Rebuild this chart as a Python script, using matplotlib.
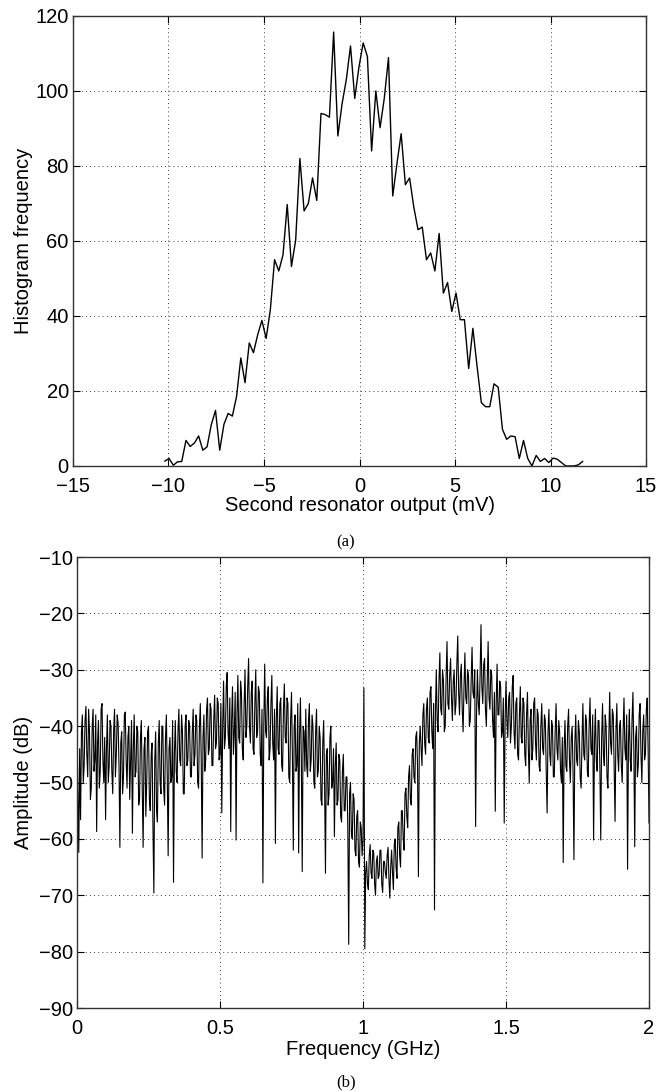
import numpy as np
import matplotlib
matplotlib.use("Agg")
import matplotlib.pyplot as plt
from matplotlib.ticker import FuncFormatter

plt.rcParams['font.family'] = ['Liberation Sans', 'DejaVu Sans']

# (a) histogramme : centres des classes (mV) et fréquences
bin_start = -10.19
bin_width = 0.2209
hist_counts = [
    1.3, 2, 0.2, 1.1, 1.2, 6.8, 5.2, 6.1, 8.0, 4.2,
    5.1, 11, 14.8, 4.2, 11.1, 14.0, 13.3, 18.6, 28.8, 22.2,
    32.8, 30.2, 35, 38.8, 34, 41.7, 55, 52, 56.3, 69.7,
    53.2, 60.2, 82, 68, 70, 76.8, 70.8, 94, 93.7, 93,
    115.7, 88, 96.6, 103, 112, 98, 106.4, 112.8, 109.2, 84,
    100, 90.2, 98, 108.9, 72, 80.6, 88.6, 75, 76.8, 69,
    63, 63.7, 55, 56.8, 52, 62, 46.1, 48.9, 41.2, 46.1,
    39, 39, 26, 36.7, 26.5, 16.9, 15.8, 15.8, 21.9, 21,
    9.8, 7.1, 8.0, 7.8, 2.0, 6.8, 2.0, 0, 2.8, 1.2,
    2.0, 0.9, 2.1, 1.8, 0.9, 0, 0, 0, 0.3, 1.2,
]
hist_x = bin_start + bin_width * np.arange(len(hist_counts))

# (b) spectre : amplitude (dB), 0 -> 2 GHz (32 valeurs par 0.1 GHz)
spec_db = [
    -40, -52, -62.4, -44, -56.6, -41, -38, -50, -47, -39, -36.5, -45, -49, -37, -41, -53,
    -51, -40, -37, -48, -46, -38, -58.7, -43, -39, -51, -48, -37, -36, -46, -50, -42,
    -56.6, -44, -38, -50, -47, -39, -40, -48, -52, -41, -37, -49, -45, -38, -39.5, -47,
    -61.5, -43, -41, -52, -49, -38, -37.5, -46, -51, -42, -40, -53, -46, -39, -59, -44,
    -38, -49, -48, -40, -41, -54, -53, -42, -39, -51, -61.5, -44, -42, -56, -50, -41,
    -40, -53, -55, -45, -43, -58, -69.6, -46, -41, -55, -57, -43, -39, -50, -52, -40,
    -40, -51, -54, -42, -38, -49, -63, -44, -42, -50, -49, -39, -67.7, -45, -39, -48,
    -50, -41, -37, -46, -47, -38, -41, -52, -52, -40, -38, -47, -46, -39, -40, -49,
    -49, -41, -37, -47, -45, -38, -39, -50, -51, -40, -36, -46, -63.4, -42, -38, -48,
    -46, -37, -35, -45, -44, -36, -37, -47, -47, -39, -34.5, -44, -43, -35, -36, -46,
    -45, -36, -55.4, -40, -32, -44, -42, -33, -30.5, -41, -44, -35, -58.7, -39, -33, -45,
    -41, -34, -60.2, -38, -31, -42, -43, -32, -34, -44, -46, -36, -30, -42, -40, -33,
    -28, -40, -43, -34, -32, -44, -45, -36, -30, -42, -41, -33, -34, -45, -47, -37,
    -67.8, -40, -29, -41, -42, -35, -33, -46, -44, -36, -31, -43, -46, -37, -60.8, -39,
    -33, -44, -45, -36, -35, -47, -48, -37, -32.5, -42, -43, -35, -36, -49, -50, -39,
    -34, -45, -62, -40, -38, -48, -47, -36, -62.5, -42, -35, -46, -65.8, -40, -41, -48,
    -37, -47, -49, -39, -36, -48, -46, -38, -40, -50, -51, -41, -37, -49, -48, -40,
    -42, -53, -54, -43, -39, -50, -66.1, -45, -44, -54, -52, -42, -40, -51, -50, -44,
    -59.6, -47, -43, -54, -53, -45, -46, -56, -57, -48, -45, -55, -55, -49, -49, -58,
    -78.7, -52, -50, -59, -60, -52, -53, -62, -63, -56, -55, -64, -65, -57, -58, -63,
    -60, -33.2, -79.5, -66, -64, -68, -69, -63, -61, -66, -67, -62, -62.5, -68, -70, -64,
    -63, -67, -66.5, -62, -62, -68, -69.5, -64, -64, -66, -67, -63, -61.5, -67, -70.5, -65,
    -62, -66, -69, -61, -60, -65, -67, -58, -57, -63, -65, -55, -55, -60, -62, -52,
    -51, -56, -58, -49, -47, -53, -54, -45, -44, -49, -50, -42, -41, -47, -66.7, -43,
    -40, -44, -47, -38, -36, -43, -45, -37, -35, -42, -43, -34, -33, -41, -44, -36,
    -72.6, -38, -30, -39, -41, -32, -27, -37, -38, -30, -32, -41, -40, -31, -25, -36,
    -37, -31, -28, -35, -39, -32, -30, -38, -36, -29, -24, -34, -38, -31, -29, -37,
    -41, -33, -27, -35, -36, -30, -31, -40, -39, -32, -26, -34, -35, -30, -57.8, -38,
    -30, -36, -38, -31, -22, -33, -36, -29, -28, -37, -40, -32, -25, -35, -37, -30,
    -31, -39, -42, -34, -55.1, -36, -29, -38, -38, -32, -33, -42, -41, -35, -57.2, -39,
    -32, -39, -42, -35, -34, -43, -40, -33, -31, -41, -44, -36, -35, -45, -46, -38,
    -33, -42, -43, -35, -36, -45, -47, -38, -34, -44, -50.1, -39, -37, -46, -44, -36,
    -35, -43, -46, -37, -38, -47, -48, -40, -36, -44, -45, -38, -39, -48, -55.4, -41,
    -37, -45, -47, -39, -40, -49, -49, -41, -36, -44, -46, -39, -41, -48, -50, -42,
    -64.2, -44, -39, -47, -48, -40, -37, -46, -50, -42, -40, -48, -63.7, -43, -38, -46,
    -47, -39, -41, -49, -51, -43, -36, -45, -46, -38, -39, -48, -49, -40, -35, -44,
    -45, -38, -60.2, -43, -37, -46, -48, -39, -39, -47, -60.2, -42, -36, -45, -47, -38,
    -40, -49, -51, -42, -34, -43, -45, -37, -38, -47, -56.9, -41, -36, -45, -48, -40,
    -39, -47, -50, -41, -35, -44, -46, -38, -65.4, -43, -37, -46, -48, -39, -34, -44,
    -61.4, -42, -40, -49, -47, -38, -36, -45, -50, -41, -38, -46, -45, -37, -35, -44,
    -57.2,
]
freq_ghz = np.linspace(0, 2, len(spec_db))

TICK_FS = 14.5
LABEL_FS = 14.5


def style_axes(ax):
    ax.grid(True, color='k', linestyle=(0, (1, 4)), linewidth=0.6)
    ax.tick_params(direction='in', top=True, right=True, length=5,
                   labelsize=TICK_FS, width=0.8)
    ax.tick_params(axis='x', pad=8)
    ax.tick_params(axis='y', pad=3)
    for s in ax.spines.values():
        s.set_linewidth(1.0)
        s.set_color('#333333')


fig = plt.figure(figsize=(6.66, 10.92), dpi=100)

# 🔹 (a) histogramme
ax1 = fig.add_axes([0.1096, 0.5733, 0.8604, 0.4121])
ax1.plot(hist_x, hist_counts, color='k', linewidth=1.0)
ax1.set_xlim(-15, 15)
ax1.set_ylim(0, 120)
ax1.set_xticks(np.arange(-15, 16, 5))
ax1.set_yticks(np.arange(0, 121, 20))
style_axes(ax1)
ax1.set_xlabel('Second resonator output (mV)', fontsize=LABEL_FS, labelpad=0)
ax1.set_ylabel('Histogram frequency', fontsize=LABEL_FS)
ax1.yaxis.set_label_coords(-0.070, 0.5)
fig.text(0.5195, 1 - 542 / 1092, '(a)', family='Liberation Serif',
         fontsize=12, ha='center', va='center')

# 🔹 (b) spectre
ax2 = fig.add_axes([0.1156, 0.0769, 0.8589, 0.4130])
ax2.plot(freq_ghz, spec_db, color='k', linewidth=0.8)
ax2.set_xlim(0, 2)
ax2.set_ylim(-90, -10)
ax2.set_xticks([0, 0.5, 1, 1.5, 2])
ax2.xaxis.set_major_formatter(FuncFormatter(lambda v, p: '%g' % v))
ax2.set_yticks(np.arange(-90, -9, 10))
style_axes(ax2)
ax2.set_xlabel('Frequency (GHz)', fontsize=LABEL_FS, labelpad=1)
ax2.set_ylabel('Amplitude (dB)', fontsize=LABEL_FS)
ax2.yaxis.set_label_coords(-0.077, 0.5)
fig.text(0.5195, 1 - 1082 / 1092, '(b)', family='Liberation Serif',
         fontsize=12, ha='center', va='center')

fig.savefig('out.png', dpi=100)
